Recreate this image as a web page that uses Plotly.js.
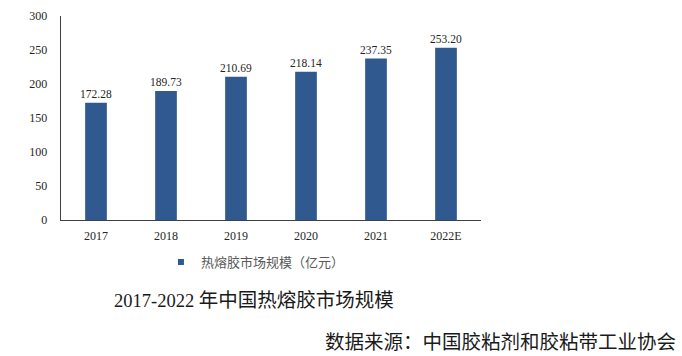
<!DOCTYPE html>
<html>
<head>
<meta charset="utf-8">
<script src="https://cdn.plot.ly/plotly-3.0.1.min.js"></script>
<style>html,body{margin:0;padding:0;background:#fff;}#chart{width:682px;height:356px;}</style>
</head>
<body>
<div id="chart"></div>
<script>
var years = ["2017", "2018", "2019", "2020", "2021", "2022E"];
var marketSize = [172.28, 189.73, 210.69, 218.14, 237.35, 253.20];
var valueLabels = ["172.28", "189.73", "210.69", "218.14", "237.35", "253.20"];
var seriesName = "热熔胶市场规模（亿元）";
var titleYears = "2017-2022 ";
var titleText = "年中国热熔胶市场规模";
var sourceNote = "数据来源：中国胶粘剂和胶粘带工业协会";
var yTicks = [0, 50, 100, 150, 200, 250, 300];

var serif = "'Liberation Serif', 'Times New Roman', 'Noto Sans CJK SC', serif";
var cjk = "'Noto Sans CJK SC', sans-serif";
var barColor = "#30598F";

var traces = [
  {
    type: "bar",
    x: years,
    y: marketSize,
    text: valueLabels,
    textposition: "outside",
    constraintext: "none",
    textfont: {family: serif, size: 11.5, color: "#262626"},
    cliponaxis: false,
    marker: {color: barColor},
    width: 0.31,
    name: seriesName,
    showlegend: false,
    hoverinfo: "x+y"
  },
  {
    type: "scatter",
    mode: "markers",
    x: [null],
    y: [null],
    marker: {symbol: "square", size: 6, color: barColor},
    name: seriesName,
    showlegend: true
  }
];

var layout = {
  width: 682,
  height: 356,
  margin: {l: 61, r: 201, t: 16, b: 136},
  paper_bgcolor: "#ffffff",
  plot_bgcolor: "#ffffff",
  xaxis: {
    type: "category",
    showline: true,
    linecolor: "#404040",
    linewidth: 1.3,
    ticks: "",
    showgrid: false,
    zeroline: false,
    tickfont: {family: serif, size: 12, color: "#262626"},
    ticklabelstandoff: 4,
    fixedrange: true
  },
  yaxis: {
    range: [0, 300],
    tickvals: yTicks,
    showline: true,
    linecolor: "#404040",
    linewidth: 1.3,
    ticks: "",
    showgrid: false,
    zeroline: false,
    tickfont: {family: serif, size: 12, color: "#262626"},
    ticklabelstandoff: 10,
    fixedrange: true
  },
  showlegend: true,
  legend: {
    x: 0.238,
    y: -0.206,
    xanchor: "left",
    yanchor: "middle",
    orientation: "h",
    font: {family: "'Noto Sans CJK SC', sans-serif", size: 13, color: "#595959"},
    bgcolor: "rgba(0,0,0,0)",
    itemwidth: 30
  },
  annotations: [
    {
      text: titleYears + "<span style='font-family:Noto Sans CJK SC;font-size:19.5px'>" + titleText + "</span>",
      xref: "paper", yref: "paper",
      x: 0.121, y: -0.387,
      xanchor: "left", yanchor: "middle",
      showarrow: false,
      font: {family: serif, size: 18.5, color: "#1a1a1a"}
    },
    {
      text: sourceNote,
      xref: "paper", yref: "paper",
      x: 1.469, y: -0.593,
      xanchor: "right", yanchor: "middle",
      showarrow: false,
      font: {family: cjk, size: 19.5, color: "#1a1a1a"}
    }
  ]
};

Plotly.newPlot("chart", traces, layout, {displayModeBar: false, staticPlot: true});
</script>
</body>
</html>
